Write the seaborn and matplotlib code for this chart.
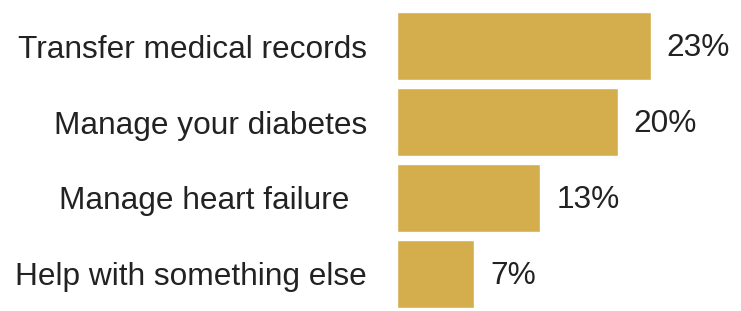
import numpy as np
import pandas as pd
import seaborn as sns
import matplotlib.pyplot as plt

# ─── Data ────────────────────────────────────────────────────────────
tasks = [
    "Transfer medical records",
    "Manage your diabetes",
    "Manage heart failure  ",
    "Help with something else",
]
shares = [23, 20, 13, 7]

bar_color = "#D4AD4C"
text_color = "#222222"

df = pd.DataFrame({"task": tasks, "share": shares})

# ─── Plot ────────────────────────────────────────────────────────────
sns.set_style("white")
plt.rcParams["font.family"] = ["Liberation Sans", "DejaVu Sans"]

fig = plt.figure(figsize=(7.41, 3.11), dpi=100)
ax = fig.add_axes([397 / 741, 0, 1 - 397 / 741, 1])

sns.barplot(data=df, x="share", y="task", orient="h", color=bar_color,
            width=0.9, saturation=1, ax=ax)

for p, v in zip(ax.patches, shares):
    ax.text(p.get_width() + 1.45, p.get_y() + p.get_height() / 2 + 0.03, f"{v}%",
            va="center", ha="left", fontsize=22.8, color=text_color)

ax.set_xlim(0, 31.2)
ax.set_ylim(3.489, -0.608)
ax.set_xlabel("")
ax.set_ylabel("")
ax.set_xticks([])
ax.tick_params(axis="y", length=0, pad=21.5, labelsize=22.8, labelcolor=text_color)
sns.despine(ax=ax, left=True, bottom=True)

fig.savefig("out.png", dpi=100)
